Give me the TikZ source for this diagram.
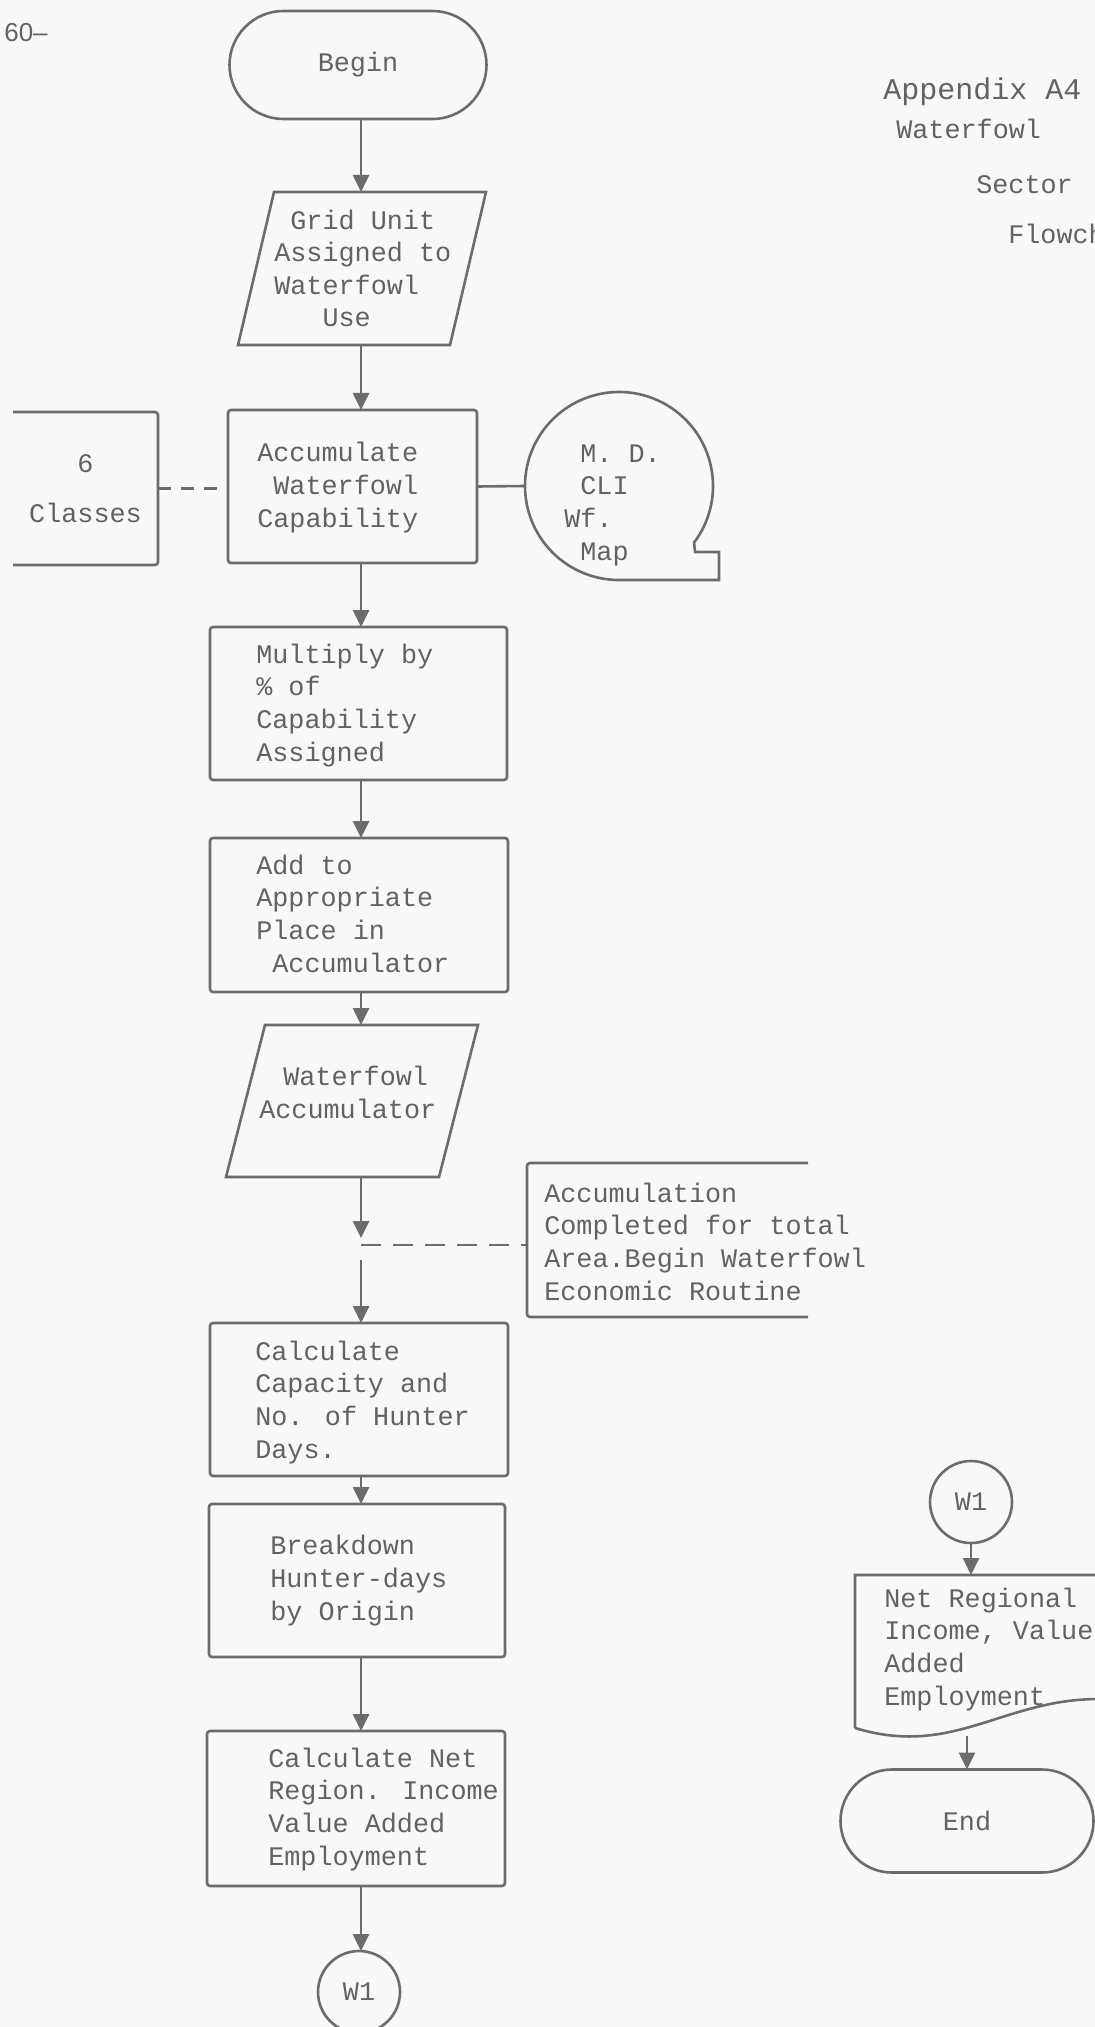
\documentclass[tikz,border=0pt]{standalone}
\usepackage{fontspec}
\setmainfont{Liberation Mono}
\newfontfamily\sansf{Liberation Sans}
\usetikzlibrary{arrows.meta,shapes.misc}
\definecolor{ink}{RGB}{108,108,108}
\definecolor{txt}{RGB}{98,98,98}
\definecolor{paper}{RGB}{248,248,246}
\begin{document}
\begin{tikzpicture}[x=0.5pt,y=-0.5pt,color=ink,line width=1.3pt,
  tt/.style={font=\fontsize{13.4}{16.3}\selectfont,text=txt,align=left,inner sep=0pt,anchor=base west},
  box/.style={draw,rectangle,inner sep=0pt,outer sep=0pt,rounded corners=1.5pt},
  hidden/.style={rectangle,inner sep=0pt,outer sep=0pt},
  term/.style={draw,rounded rectangle,inner sep=0pt,outer sep=0pt,font=\fontsize{13.4}{16.3}\selectfont,text=txt},
  conn/.style={draw,circle,minimum size=41pt,inner sep=0pt,outer sep=0pt,font=\fontsize{13.4}{16.3}\selectfont,text=txt},
  arr/.style={-{Triangle[length=8.5pt,width=8pt]}},
  dashA/.style={dash pattern=on 10pt off 6pt},
  dashB/.style={dash pattern=on 6.5pt off 5pt}]
\fill[paper] (0,0) rectangle (1095,2027);
\useasboundingbox (0,0) rectangle (1095,2027);
\clip (0,0) rectangle (1095,2027);

% page header and title
\node[inner sep=0pt,anchor=base west,font=\sansf\fontsize{13}{15}\selectfont,text=txt] (pageno) at (3,42) {60\textendash};
\node[tt,font=\fontsize{15}{18}\selectfont] (tA) at (882,100) {Appendix A4};
\node[tt] (tB) at (895,139) {Waterfowl};
\node[tt] (tC) at (975,194) {Sector};
\node[tt] (tD) at (1007,244) {Flowchart};

\coordinate (axis) at (361,0);

% main column (text nodes anchored at the baseline of their last line)
\node[term,minimum width=128.5pt,minimum height=54pt] (begin) at (358,65) {Begin};

\node[hidden,minimum width=124pt,minimum height=76.5pt] (gridp) at (362,268.5) {};
\draw ([xshift=18pt]gridp.north west) -- (gridp.north east) -- ([xshift=-18pt]gridp.south east) -- (gridp.south west) -- cycle;
\node[tt] (gridt) at (273,327) {\hphantom{x}Grid Unit\\Assigned to\\Waterfowl\\\hphantom{xxx}Use};

\node[box,minimum width=124.5pt,minimum height=76.5pt] (accum) at (352.5,486.5) {};
\node[tt] (accumt) at (256,527) {Accumulate\\\hphantom{x}Waterfowl\\Capability};

\node[hidden,minimum width=72.5pt,minimum height=76.5pt,font=\fontsize{13.4}{16.3}\selectfont,text=txt,align=center] (classes) at (85.5,488.5) {6\\[8.7pt]Classes};
\draw[rounded corners=1.5pt] (classes.north west) -- (classes.north east) -- (classes.south east) -- (classes.south west);

\node[hidden,circle,minimum size=94pt] (tape) at (619,486) {};
\draw (tape.-37) arc[start angle=-37,end angle=270,radius=47pt] -- ([xshift=50pt]tape.south) -- ([xshift=50pt,yshift=14pt]tape.south) -- ([xshift=38pt,yshift=14pt]tape.south) -- cycle;
\node[tt] (tapet) at (563,560) {\hphantom{x}M. D.\\\hphantom{x}CLI\\Wf.\\\hphantom{x}Map};

\node[box,minimum width=148.5pt,minimum height=76.5pt] (mult) at (358.5,703.5) {};
\node[tt] (multt) at (255,761) {Multiply by\\\% of\\Capability\\Assigned};

\node[box,minimum width=149pt,minimum height=77pt] (add) at (359,915) {};
\node[tt] (addt) at (255,972) {Add to\\Appropriate\\Place in\\\hphantom{x}Accumulator};

\node[hidden,minimum width=126pt,minimum height=76pt] (accp) at (352,1101) {};
\draw ([xshift=19.5pt]accp.north west) -- (accp.north east) -- ([xshift=-19.5pt]accp.south east) -- (accp.south west) -- cycle;
\node[tt] (accpt) at (258,1118) {\hspace*{12pt}Waterfowl\\Accumulator};

\coordinate (junc) at (361,1245);

\node[hidden,minimum width=140.5pt,minimum height=77pt] (annot) at (667.5,1240) {};
\draw[rounded corners=1.5pt] (annot.north east) -- (annot.north west) -- (annot.south west) -- (annot.south east);
\node[tt] (annott) at (543,1300) {Accumulation\\Completed for total\\Area.Begin Waterfowl\\Economic Routine};

\node[box,minimum width=149pt,minimum height=76.5pt] (calc) at (359,1399.5) {};
\node[tt] (calct) at (254,1458) {Calculate\\Capacity and\\No. of Hunter\\Days.};

\node[box,minimum width=148pt,minimum height=76.5pt] (brk) at (357,1580.5) {};
\node[tt] (brkt) at (269,1620) {Breakdown\\Hunter-days\\by Origin};

\node[box,minimum width=149pt,minimum height=77.5pt] (net) at (356,1808.5) {};
\node[tt] (nett) at (267,1865) {Calculate Net\\Region. Income\\Value Added\\Employment};

\node[conn] (w1a) at (359,1992) {W1};

% right column
\node[conn] (w1b) at (971,1502) {W1};
\node[hidden,minimum width=132.5pt,minimum height=76.5pt] (doc) at (987.5,1651.5) {};
\draw (doc.south west) -- (doc.north west) -- (doc.north east) -- ([yshift=14pt]doc.south east) .. controls (1010,1690) and (960,1760) .. (doc.south west);
\node[tt] (doct) at (883,1705) {Net Regional\\Income, Value\\Added\\Employment};
\node[term,minimum width=126.5pt,minimum height=51.5pt] (endn) at (967,1821) {End};

% connectors
\draw[arr] (axis |- begin.south) -- (axis |- gridp.north);
\draw[arr] (axis |- gridp.south) -- (axis |- accum.north);
\draw[arr] (axis |- accum.south) -- (axis |- mult.north);
\draw[arr] (axis |- mult.south) -- (axis |- add.north);
\draw[arr] (axis |- add.south) -- (axis |- accp.north);
\draw[arr] (axis |- accp.south) -- ([yshift=3.5pt]junc);
\draw[dashA] (junc) -- (annot.west |- junc);
\draw[arr] ([yshift=-7.5pt]junc) -- (axis |- calc.north);
\draw[arr] (axis |- calc.south) -- (axis |- brk.north);
\draw[arr] (axis |- brk.south) -- (axis |- net.north);
\draw[arr] (axis |- net.south) -- (axis |- w1a.north);
\draw[dashB] (classes.east) -- (classes.east -| accum.west);
\draw (accum.east) -- (tape.west);
\draw[arr] (w1b.south) -- (w1b.south |- doc.north);
\draw[arr] ([yshift=-4pt]endn.north |- doc.south) -- (endn.north);
\end{tikzpicture}
\end{document}
